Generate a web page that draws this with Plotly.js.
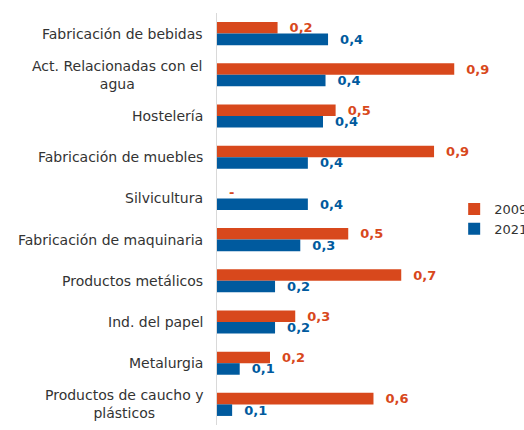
<!DOCTYPE html>
<html><head><meta charset="utf-8">
<script src="https://cdn.plot.ly/plotly-3.0.1.min.js"></script>
<style>html,body{margin:0;padding:0;background:#fff}#chart{width:524px;height:430px}</style>
</head><body><div id="chart"></div>
<script>
const categories = ["Fabricación de bebidas","Act. Relacionadas con el<br>agua","Hostelería","Fabricación de muebles","Silvicultura","Fabricación de maquinaria","Productos metálicos","Ind. del papel","Metalurgia","Productos de caucho y<br>plásticos"];
const values2009 = [0.24,0.94,0.47,0.86,0,0.52,0.73,0.31,0.21,0.62];
const values2021 = [0.44,0.43,0.42,0.36,0.36,0.33,0.23,0.23,0.09,0.06];
const seriesNames = ["2009","2021"];
const colors = ["#D8481C","#005A9E"];
const fmt = v => v === 0 ? "-" : (Math.round(v * 10) / 10).toFixed(1).replace(".", ",");
const pad = "\u00a0\u00a0";
const FONT = "'DejaVu Sans', sans-serif";
const mk = (vals, i) => ({
  type: "bar", orientation: "h", name: seriesNames[i], y: categories, x: vals,
  marker: {color: colors[i]},
  text: vals.map(v => pad + fmt(v)), textposition: "outside", cliponaxis: false,
  constraintext: "none",
  textfont: {family: FONT, size: 13, color: colors[i], weight: "bold"},
  hoverinfo: "none"
});
const data = [mk(values2009,0), mk(values2021,1)];
const annotations = categories.map(c => ({
  xref: "paper", yref: "y", x: 0, y: c, xshift: -12, xanchor: "right", yanchor: "middle",
  text: c, showarrow: false, align: "center",
  font: {family: FONT, size: 14, color: "#333"}
}));
const layout = {
  width: 524, height: 430,
  margin: {l: 217, r: 42, t: 13, b: 5, autoexpand: false},
  barmode: "group", bargap: 0.44, bargroupgap: 0,
  paper_bgcolor: "#fff", plot_bgcolor: "#fff",
  xaxis: {range: [0, 1.05], visible: false, fixedrange: true},
  yaxis: {autorange: "reversed", showticklabels: false, ticks: "", showline: true, linecolor: "#d9d9d9", linewidth: 1, showgrid: false, zeroline: false},
  showlegend: true,
  legend: {x: 0.895, xanchor: "left", y: 0.5, yanchor: "middle", font: {family: FONT, size: 13, color: "#333"}, itemwidth: 30, tracegroupgap: 8, bgcolor: "rgba(0,0,0,0)"},
  annotations: annotations,
  font: {family: FONT}
};
Plotly.newPlot("chart", data, layout, {displayModeBar: false, staticPlot: true});
</script></body></html>
